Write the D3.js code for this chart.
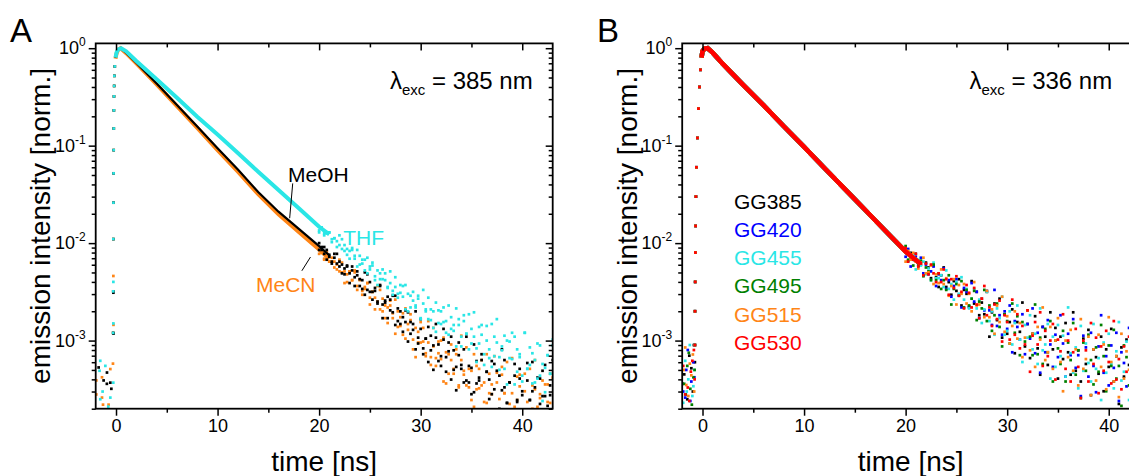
<!DOCTYPE html>
<html>
<head>
<meta charset="utf-8">
<script src="https://cdn.jsdelivr.net/npm/d3@7"></script>
<style>
  body { margin: 0; background: #fff; }
  text { font-family: "Liberation Sans", Arial, sans-serif; }
</style>
</head>
<body>
<div id="chart"></div>
<script>
// ---- data (time in ns, intensity normalised) ----
var xTicks = [0, 10, 20, 30, 40];
var xMinor = [5, 15, 25, 35];
var yTicks = [1, 0.1, 0.01, 0.001];

// time bins of the noisy tail (20 ... 43 ns, every 0.25 ns)
var tailT = [20,20.25,20.5,20.75,21,21.25,21.5,21.75,22,22.25,22.5,22.75,23,23.25,23.5,23.75,24,24.25,24.5,24.75,
  25,25.25,25.5,25.75,26,26.25,26.5,26.75,27,27.25,27.5,27.75,28,28.25,28.5,28.75,29,29.25,29.5,29.75,
  30,30.25,30.5,30.75,31,31.25,31.5,31.75,32,32.25,32.5,32.75,33,33.25,33.5,33.75,34,34.25,34.5,34.75,
  35,35.25,35.5,35.75,36,36.25,36.5,36.75,37,37.25,37.5,37.75,38,38.25,38.5,38.75,39,39.25,39.5,39.75,
  40,40.25,40.5,40.75,41,41.25,41.5,41.75,42,42.25,42.5,42.75,43];

// panel A : smooth part of the decays [t, intensity]
var meohCurve = [[-0.05,0.8],[0.05,0.9],[0.2,0.97],[0.45,1.0],[1,0.9],[2,0.71],[4,0.435],[6,0.262],[8,0.157],[10,0.094],[12,0.057],[14,0.0335],[16,0.021],[18,0.014],[20,0.0093],[21,0.0075]];
var mecnCurve = [[-0.05,0.78],[0.05,0.88],[0.2,0.96],[0.45,1.0],[1,0.89],[2,0.7],[4,0.425],[6,0.255],[8,0.152],[10,0.09],[12,0.054],[14,0.0318],[16,0.0198],[18,0.013],[20,0.0086],[21,0.0069]];
var thfCurve = [[-0.05,0.8],[0.05,0.9],[0.2,0.97],[0.5,1.0],[1,0.93],[2,0.74],[4,0.48],[6,0.31],[8,0.198],[10,0.13],[12,0.084],[14,0.054],[16,0.035],[18,0.0228],[20,0.0147],[21,0.0123]];

// rising edge, same time bins for all three
var riseA = [[-0.28,0.0012],[-0.27,0.0032],[-0.26,0.011],[-0.25,0.026],[-0.24,0.052],[-0.23,0.09],[-0.22,0.15],[-0.21,0.23],[-0.2,0.32],[-0.18,0.41],[-0.16,0.52],[-0.12,0.65]];

// background before the pulse [t, intensity x 1e-3]
var meohPre = [[-1.71,0.53],[-0.89,0.47],[-1.22,0.39],[-0.9,0.36],[-0.56,0.37],[-0.46,0.32],[-0.25,1.18],[-0.26,3.1]];
var mecnPre = [[-0.3,0.58],[-1.38,0.42],[-1.94,0.39],[-0.56,0.51],[-1.94,0.28],[-1.28,0.22],[-0.73,0.22],[-1.38,0.26],[-0.25,1.45],[-0.26,4.6]];
var thfPre = [[-1.55,0.62],[-1.05,0.55],[-1.62,0.49],[-1.32,0.3],[-0.27,0.37],[-0.56,0.26],[-1.55,0.25],[-0.76,0.21],[-0.26,1.5],[-0.26,4.0]];

// tails, log10(intensity) at tailT (two reads per bin)
var meohLog1 = [-2.00,-2.04,-2.11,-2.07,-2.14,-2.21,-2.15,-2.11,-2.24,-2.22,-2.32,-2.24,-2.31,-2.24,-2.44,-2.33,-2.37,-2.47,-2.30,-2.48,-2.40,-2.58,-2.49,-2.60,-2.44,-2.77,-2.61,-2.55,-2.69,-2.54,-2.84,-2.67,-2.83,-2.76,-2.69,-3.01,-2.81,-2.89,-2.70,-3.03,-2.88,-3.14,-2.98,-2.86,-3.10,-3.30,-2.97,-3.04,-3.26,-2.88,-3.17,-3.02,-3.40,-3.10,-3.27,-3.02,-3.25,-3.43,-2.96,-3.43,-3.28,-3.53,-3.21,-3.41,-3.14,-3.71,-3.32,-3.40,-3.55,-3.24,-3.71,-3.36,-3.51,-3.20,-3.64,-3.43,-3.84,-3.36,-3.61,-3.29,-3.52,-3.72,-3.41,-3.61,-3.22,-3.48,-3.78,-3.39,-3.57,-3.25,-3.67,-3.56,-3.90];
var meohLog2 = [-2.07,-2.07,-2.04,-2.17,-2.12,-2.19,-2.11,-2.21,-2.19,-2.31,-2.26,-2.23,-2.41,-2.28,-2.35,-2.29,-2.44,-2.38,-2.53,-2.32,-2.50,-2.50,-2.46,-2.62,-2.43,-2.63,-2.59,-2.77,-2.58,-2.71,-2.54,-2.80,-2.70,-2.91,-2.81,-2.71,-2.93,-2.83,-3.09,-2.97,-2.78,-3.08,-2.98,-3.22,-2.95,-3.05,-2.83,-3.21,-3.16,-2.99,-3.32,-3.11,-2.96,-3.30,-3.51,-3.15,-3.29,-3.09,-3.41,-3.26,-3.55,-3.04,-3.44,-3.38,-3.20,-3.71,-3.32,-3.60,-3.21,-3.50,-3.31,-3.70,-3.09,-3.48,-3.64,-3.43,-3.78,-3.24,-3.63,-3.39,-3.56,-3.72,-3.23,-3.61,-3.52,-3.88,-3.38,-3.65,-3.31,-3.57,-3.77,-3.46,-3.20];
var mecnLog1 = [-2.06,-2.10,-2.16,-2.09,-2.19,-2.15,-2.25,-2.22,-2.29,-2.20,-2.41,-2.32,-2.29,-2.38,-2.30,-2.48,-2.37,-2.49,-2.45,-2.41,-2.63,-2.50,-2.56,-2.44,-2.68,-2.57,-2.77,-2.66,-2.59,-2.77,-2.93,-2.70,-2.76,-2.94,-2.67,-2.89,-2.79,-3.09,-2.87,-3.02,-2.81,-3.01,-3.16,-2.80,-3.17,-3.06,-3.26,-3.01,-3.19,-2.97,-3.44,-3.14,-3.20,-3.34,-3.09,-3.48,-3.20,-3.35,-3.07,-3.48,-3.31,-3.68,-3.26,-3.49,-3.20,-3.43,-3.64,-3.34,-3.55,-3.16,-3.43,-3.74,-3.35,-3.54,-3.22,-3.65,-3.54,-3.88,-3.37,-3.47,-3.72,-3.34,-3.63,-3.85,-3.46,-3.20,-3.68,-3.55,-3.79,-3.45,-3.63,-3.34,-3.92];
var mecnLog2 = [-2.11,-2.09,-2.17,-2.09,-2.19,-2.19,-2.19,-2.27,-2.17,-2.30,-2.29,-2.40,-2.29,-2.38,-2.28,-2.44,-2.38,-2.53,-2.47,-2.41,-2.56,-2.50,-2.68,-2.60,-2.48,-2.70,-2.64,-2.82,-2.64,-2.72,-2.58,-2.86,-2.85,-2.72,-2.98,-2.83,-2.73,-2.99,-3.17,-2.91,-3.02,-2.87,-3.13,-3.02,-3.25,-2.87,-3.18,-3.13,-3.00,-3.42,-3.12,-3.34,-3.04,-3.29,-3.14,-3.46,-2.95,-3.31,-3.46,-3.29,-3.61,-3.14,-3.50,-3.29,-3.46,-3.63,-3.14,-3.54,-3.45,-3.82,-3.33,-3.60,-3.27,-3.54,-3.74,-3.43,-3.18,-3.68,-3.61,-3.35,-3.86,-3.52,-3.75,-3.29,-3.70,-3.50,-3.84,-3.59,-3.41,-3.95,-3.45,-3.64,-3.38];
var thfLog1 = [-1.89,-1.84,-1.90,-1.89,-1.89,-1.99,-1.95,-1.98,-1.92,-2.06,-2.02,-2.12,-2.08,-2.05,-2.16,-2.24,-2.13,-2.17,-2.28,-2.15,-2.27,-2.23,-2.38,-2.28,-2.37,-2.27,-2.38,-2.46,-2.29,-2.49,-2.45,-2.56,-2.43,-2.55,-2.43,-2.70,-2.54,-2.59,-2.66,-2.54,-2.78,-2.62,-2.70,-2.56,-2.79,-2.70,-2.91,-2.69,-2.83,-2.66,-2.80,-2.94,-2.76,-2.90,-2.67,-2.84,-3.06,-2.80,-2.93,-2.73,-3.03,-2.96,-3.22,-2.86,-2.94,-3.14,-2.85,-3.09,-3.27,-2.96,-2.78,-3.17,-3.06,-3.29,-3.00,-3.18,-2.92,-3.45,-3.09,-3.17,-3.36,-2.92,-3.29,-3.07,-3.44,-3.20,-3.39,-3.05,-3.62,-3.28,-3.15,-3.34,-3.05];
var thfLog2 = [-1.87,-1.84,-1.92,-1.90,-1.89,-1.96,-1.95,-2.04,-2.02,-1.96,-2.08,-2.06,-2.16,-2.07,-2.13,-2.07,-2.22,-2.21,-2.17,-2.31,-2.24,-2.20,-2.34,-2.43,-2.31,-2.37,-2.31,-2.45,-2.41,-2.53,-2.35,-2.52,-2.51,-2.44,-2.68,-2.52,-2.66,-2.50,-2.64,-2.57,-2.77,-2.48,-2.68,-2.78,-2.68,-2.87,-2.61,-2.82,-2.70,-2.81,-2.92,-2.64,-2.88,-2.84,-3.06,-2.78,-2.96,-2.74,-2.93,-3.09,-2.88,-2.71,-3.08,-3.03,-2.84,-3.25,-3.00,-3.18,-2.83,-3.16,-3.02,-3.30,-3.10,-2.95,-3.45,-3.01,-3.19,-2.96,-3.32,-3.14,-3.42,-2.92,-3.29,-3.25,-3.13,-3.43,-3.03,-3.36,-3.24,-3.53,-3.15,-3.34,-2.99];

// panel B : the six filters give the same decay
var decayB = [[-0.1,0.8],[0,0.93],[0.2,0.99],[0.5,1.0],[1,0.9],[2,0.69],[4,0.42],[6,0.26],[8,0.158],[10,0.097],[12,0.059],[14,0.036],[16,0.022],[18,0.0134],[20,0.0082],[21,0.0067],[21.5,0.0061]];
var riseB = [[-0.75,0.0009],[-0.74,0.002],[-0.72,0.004],[-0.7,0.008],[-0.68,0.015],[-0.65,0.03],[-0.6,0.06],[-0.5,0.12],[-0.4,0.24],[-0.3,0.4],[-0.2,0.6]];

var gg385Pre = [[-1.8,0.45],[-1.3,0.7],[-0.95,0.3],[-1.5,0.25],[-0.85,0.9],[-1.1,0.52],[-1.95,0.36],[-0.75,0.6]];
var gg420Pre = [[-1.6,0.5],[-1.1,0.38],[-0.9,0.6],[-1.9,0.3],[-1.2,0.24],[-1.45,0.8],[-0.8,0.42],[-1.7,0.26]];
var gg455Pre = [[-1.7,0.62],[-1.0,0.27],[-1.4,0.4],[-0.8,0.5],[-1.9,0.23],[-1.25,0.9],[-0.9,0.34],[-1.55,0.3]];
var gg495Pre = [[-1.5,0.55],[-1.2,0.32],[-0.9,0.42],[-1.8,0.36],[-1.05,0.22],[-1.35,0.75],[-0.78,0.5],[-1.65,0.28]];
var gg515Pre = [[-1.6,0.35],[-1.25,0.58],[-0.95,0.72],[-1.85,0.5],[-1.4,0.27],[-1.1,0.44],[-0.82,0.3],[-1.7,0.85]];
var gg530Pre = [[-1.7,0.28],[-1.15,0.48],[-0.85,0.8],[-1.45,0.33],[-1.0,0.62],[-1.3,0.24],[-0.78,0.4],[-1.9,0.55]];

var gg385Log = [-2.09,-2.18,-2.10,-2.17,-2.11,-2.23,-2.22,-2.33,-2.20,-2.25,-2.36,-2.23,-2.35,-2.45,-2.33,-2.25,-2.45,-2.40,-2.53,-2.39,-2.49,-2.37,-2.64,-2.48,-2.52,-2.65,-2.39,-2.62,-2.50,-2.74,-2.61,-2.73,-2.50,-2.96,-2.71,-2.62,-2.79,-2.57,-2.97,-2.73,-2.93,-2.81,-2.68,-3.13,-2.81,-2.91,-2.61,-3.06,-2.83,-3.18,-2.93,-2.75,-3.08,-3.35,-2.86,-2.96,-3.25,-2.71,-3.09,-2.87,-3.39,-2.96,-3.19,-2.82,-3.12,-3.35,-2.71,-3.31,-3.10,-3.42,-2.98,-3.24,-2.89,-3.56,-3.09,-3.17,-3.34,-2.96,-3.52,-3.09,-3.27,-2.88,-3.42,-3.16,-3.65,-3.07,-3.37,-2.99,-3.25,-3.49,-3.12,-3.36,-2.88];
var gg420Log = [-2.14,-2.06,-2.24,-2.16,-2.14,-2.22,-2.15,-2.31,-2.22,-2.32,-2.29,-2.24,-2.44,-2.32,-2.38,-2.26,-2.47,-2.38,-2.55,-2.44,-2.37,-2.53,-2.66,-2.46,-2.50,-2.66,-2.41,-2.60,-2.50,-2.77,-2.57,-2.69,-2.49,-2.69,-2.84,-2.48,-2.85,-2.74,-2.94,-2.70,-2.88,-2.64,-3.12,-2.80,-2.86,-2.99,-2.73,-3.14,-2.83,-2.98,-2.67,-3.13,-2.92,-3.33,-2.86,-3.12,-2.79,-3.04,-3.27,-2.94,-3.17,-2.74,-3.03,-3.37,-2.93,-3.15,-2.78,-3.28,-3.15,-3.57,-2.95,-3.07,-3.37,-2.92,-3.26,-3.53,-3.06,-2.74,-3.33,-3.16,-3.46,-3.05,-3.28,-2.92,-3.62,-3.12,-3.23,-3.47,-2.87,-3.35,-3.04,-3.52,-3.19];
var gg455Log = [-2.08,-2.19,-2.14,-2.12,-2.27,-2.17,-2.23,-2.19,-2.32,-2.26,-2.38,-2.20,-2.36,-2.36,-2.33,-2.45,-2.28,-2.47,-2.42,-2.58,-2.40,-2.52,-2.35,-2.58,-2.47,-2.67,-2.57,-2.47,-2.67,-2.58,-2.82,-2.68,-2.50,-2.80,-2.70,-2.94,-2.67,-2.77,-2.55,-2.94,-2.90,-2.70,-3.04,-2.82,-2.64,-2.99,-3.22,-2.84,-2.97,-2.74,-3.09,-2.93,-3.24,-2.67,-3.10,-3.04,-2.83,-3.39,-2.96,-3.27,-2.84,-3.16,-2.95,-3.37,-2.66,-3.13,-3.33,-3.07,-3.49,-2.85,-3.31,-3.03,-3.23,-3.42,-2.83,-3.29,-3.18,-3.61,-3.02,-3.33,-2.93,-3.24,-3.49,-3.11,-2.81,-3.41,-3.32,-3.01,-3.61,-3.20,-3.48,-2.92,-3.40];
var gg495Log = [-2.03,-2.17,-2.15,-2.23,-2.17,-2.23,-2.18,-2.34,-2.25,-2.29,-2.38,-2.22,-2.38,-2.31,-2.47,-2.38,-2.48,-2.33,-2.63,-2.47,-2.42,-2.54,-2.39,-2.66,-2.48,-2.64,-2.57,-2.49,-2.79,-2.60,-2.67,-2.48,-2.80,-2.64,-2.90,-2.74,-2.62,-2.86,-3.06,-2.73,-2.80,-3.03,-2.62,-2.92,-2.75,-3.15,-2.81,-3.01,-2.69,-2.96,-3.15,-2.63,-3.14,-2.97,-3.24,-2.88,-3.12,-2.80,-3.42,-3.00,-3.08,-3.24,-2.90,-3.42,-3.02,-3.20,-2.82,-3.35,-3.10,-3.59,-3.02,-3.31,-2.94,-3.20,-3.45,-3.07,-3.32,-2.84,-3.16,-3.52,-3.05,-3.26,-2.89,-3.39,-3.26,-3.67,-3.05,-3.17,-3.46,-3.01,-3.35,-3.62,-3.14];
var gg515Log = [-2.19,-2.08,-2.17,-2.10,-2.19,-2.26,-2.20,-2.15,-2.31,-2.30,-2.23,-2.42,-2.32,-2.41,-2.27,-2.42,-2.36,-2.54,-2.44,-2.37,-2.63,-2.43,-2.52,-2.42,-2.62,-2.52,-2.70,-2.40,-2.64,-2.63,-2.57,-2.76,-2.49,-2.76,-2.68,-2.93,-2.64,-2.81,-2.55,-2.91,-2.75,-3.03,-2.85,-2.70,-2.98,-2.82,-3.17,-2.97,-2.69,-3.10,-2.93,-3.27,-2.86,-2.99,-2.66,-3.20,-3.12,-2.86,-3.29,-3.00,-2.77,-3.22,-3.52,-3.00,-3.17,-2.89,-3.31,-3.09,-3.46,-2.78,-3.29,-3.19,-2.96,-3.56,-3.09,-3.41,-2.94,-3.27,-3.04,-3.50,-2.76,-3.22,-3.42,-3.16,-3.58,-2.93,-3.39,-3.11,-3.30,-3.49,-2.90,-3.36,-3.24];
var gg530Log = [-2.05,-2.19,-2.12,-2.17,-2.11,-2.24,-2.21,-2.33,-2.21,-2.32,-2.22,-2.31,-2.40,-2.31,-2.40,-2.27,-2.37,-2.53,-2.37,-2.46,-2.34,-2.54,-2.50,-2.67,-2.43,-2.51,-2.66,-2.46,-2.63,-2.77,-2.57,-2.44,-2.74,-2.66,-2.85,-2.63,-2.78,-2.59,-3.01,-2.74,-2.81,-2.99,-2.58,-2.94,-2.73,-3.08,-2.85,-3.04,-2.69,-3.32,-2.95,-2.81,-3.04,-2.71,-3.26,-2.90,-3.16,-3.00,-2.83,-3.40,-2.99,-3.11,-2.73,-3.29,-3.00,-3.42,-3.12,-2.88,-3.27,-3.59,-3.00,-3.10,-3.42,-2.82,-3.24,-2.97,-3.54,-3.06,-3.31,-2.90,-3.22,-3.44,-2.80,-3.40,-3.19,-3.50,-3.06,-3.32,-2.96,-3.63,-3.16,-3.24,-3.40];

var cCyan = "#2ae6e6", cOrange = "#ff8516";

var seriesA = [
  { name: "MeCN", color: cOrange, curve: mecnCurve, pre: mecnPre, tails: [mecnLog1, mecnLog2], lw: 4 },
  { name: "MeOH", color: "#000000", curve: meohCurve, pre: meohPre, tails: [meohLog1, meohLog2], lw: 2.2 },
  { name: "THF", color: cCyan, curve: thfCurve, pre: thfPre, tails: [thfLog1, thfLog2], lw: 4 }
];
var seriesB = [
  { name: "GG385", color: "#000000", pre: gg385Pre, tails: [gg385Log] },
  { name: "GG420", color: "#0000ff", pre: gg420Pre, tails: [gg420Log] },
  { name: "GG455", color: cCyan, pre: gg455Pre, tails: [gg455Log] },
  { name: "GG495", color: "#008000", pre: gg495Pre, tails: [gg495Log] },
  { name: "GG515", color: cOrange, pre: gg515Pre, tails: [gg515Log] },
  { name: "GG530", color: "#ff0000", pre: gg530Pre, tails: [gg530Log] }
];

var width = 457, height = 365.3;

var svg = d3.select("#chart").append("svg")
  .attr("width", 1129).attr("height", 476);

var x = d3.scaleLinear().domain([-2, 43]).range([0, width]);
var y = d3.scaleLog().domain([2e-4, 1.12]).range([height, 0]);

var line = d3.line()
  .x(function(d) { return x(d[0]) })
  .y(function(d) { return y(d[1]) });

// minor log ticks 2..9 per decade
var yMinor = [];
[1e-4, 1e-3, 1e-2, 1e-1].forEach(function(dec) {
  for (var k = 2; k <= 9; k++) yMinor.push(dec * k);
});
yMinor = yMinor.filter(function(v) { return v >= 2e-4 && v <= 1.12 });

function panel(left, id) {
  var g = svg.append("g").attr("transform", "translate(" + left + ",43.4)");

  g.append("clipPath").attr("id", "clip" + id)
    .append("rect").attr("width", width).attr("height", height);

  var plot = g.append("g").attr("clip-path", "url(#clip" + id + ")");

  // axes : left / bottom ticks out, top / right ticks in
  var ax = [
    g.append("g").attr("transform", "translate(0," + height + ")")
      .call(d3.axisBottom(x).tickValues(xTicks).tickSize(7).tickSizeOuter(0).tickPadding(4)),
    g.append("g").attr("transform", "translate(0," + height + ")")
      .call(d3.axisBottom(x).tickValues(xMinor).tickSize(4).tickSizeOuter(0).tickFormat("")),
    g.append("g").call(d3.axisTop(x).tickValues(xTicks).tickSize(-7).tickSizeOuter(0).tickFormat("")),
    g.append("g").call(d3.axisTop(x).tickValues(xMinor).tickSize(-4).tickSizeOuter(0).tickFormat("")),
    g.append("g").call(d3.axisLeft(y).tickValues(yTicks).tickSize(7).tickSizeOuter(0).tickFormat("")),
    g.append("g").call(d3.axisLeft(y).tickValues(yMinor).tickSize(4).tickSizeOuter(0).tickFormat("")),
    g.append("g").attr("transform", "translate(" + width + ",0)")
      .call(d3.axisRight(y).tickValues(yTicks).tickSize(-7).tickSizeOuter(0).tickFormat("")),
    g.append("g").attr("transform", "translate(" + width + ",0)")
      .call(d3.axisRight(y).tickValues(yMinor).tickSize(-4).tickSizeOuter(0).tickFormat(""))
  ];
  ax.forEach(function(a) {
    a.select(".domain").remove();
    a.selectAll("line").attr("stroke", "#000").attr("stroke-width", 1.5);
    a.selectAll("text").attr("font-size", 18).attr("fill", "#000")
      .style("font-family", "'Liberation Sans', Arial, sans-serif");
  });

  // y labels 10^n
  yTicks.forEach(function(v) {
    var e = Math.round(Math.log10(v));
    var t = g.append("text")
      .attr("x", -10).attr("y", y(v) + 6)
      .attr("text-anchor", "end").attr("font-size", 18);
    t.append("tspan").text("10");
    t.append("tspan").attr("font-size", 12).attr("dy", -8).text(e === 0 ? "0" : "-" + Math.abs(e));
  });

  g.append("rect")
    .attr("width", width).attr("height", height)
    .attr("fill", "none").attr("stroke", "#000").attr("stroke-width", 1.8);

  return { g: g, plot: plot };
}

var dot = 2.7;

function dots(plot, data, color, scale) {
  plot.append("g").selectAll("rect")
    .data(data)
    .enter()
    .append("rect")
      .attr("x", function(d) { return x(d[0]) - dot / 2 })
      .attr("y", function(d) { return y(d[1] * scale) - dot / 2 })
      .attr("width", dot).attr("height", dot)
      .attr("fill", color);
}

function tail(plot, logs, color) {
  plot.append("g").selectAll("rect")
    .data(logs)
    .enter()
    .append("rect")
      .attr("x", function(d, i) { return x(tailT[i]) - dot / 2 })
      .attr("y", function(d) { return y(Math.pow(10, d)) - dot / 2 })
      .attr("width", dot).attr("height", dot)
      .attr("fill", color);
}

// ---------- panel A ----------
var A = panel(95.7, "A");
seriesA.forEach(function(s) {
  dots(A.plot, riseA, s.color, 1);
  dots(A.plot, s.pre, s.color, 1e-3);
  s.tails.forEach(function(t) { tail(A.plot, t, s.color) });
  A.plot.append("path")
    .datum(s.curve)
    .attr("d", line)
    .attr("fill", "none")
    .attr("stroke", s.color)
    .attr("stroke-width", s.lw);
});

// ---------- panel B ----------
var B = panel(682.2, "B");
seriesB.forEach(function(s) {
  dots(B.plot, riseB, s.color, 1);
  dots(B.plot, s.pre, s.color, 1e-3);
  s.tails.forEach(function(t) { tail(B.plot, t, s.color) });
  B.plot.append("path")
    .datum(decayB)
    .attr("d", line)
    .attr("fill", "none")
    .attr("stroke", s.color)
    .attr("stroke-width", 4.5);
});

// ---------- labels ----------
function lambda(g, xr, nm) {
  var t = g.append("text").attr("x", xr).attr("y", 46)
    .attr("text-anchor", "end").attr("font-size", 24);
  t.append("tspan").text("\u03bb");
  t.append("tspan").attr("font-size", 15).attr("dy", 6).text("exc");
  t.append("tspan").attr("dy", -6).text(" = " + nm + " nm");
}
lambda(A.g, 437, 385);
lambda(B.g, 430, 336);

A.g.append("text").attr("x", 192.3).attr("y", 138.3).attr("font-size", 21).text("MeOH");
A.g.append("text").attr("x", 247.6).attr("y", 201.6).attr("font-size", 21).attr("fill", cCyan).text("THF");
A.g.append("text").attr("x", 160.3).attr("y", 248.3).attr("font-size", 21).attr("fill", cOrange).text("MeCN");

// leader lines
A.g.append("line")
  .attr("x1", x(17.4)).attr("y1", y(0.041)).attr("x2", x(17.1)).attr("y2", y(0.018))
  .attr("stroke", "#000").attr("stroke-width", 1);
A.g.append("line")
  .attr("x1", x(18.3)).attr("y1", y(0.0052)).attr("x2", x(19.15)).attr("y2", y(0.0072))
  .attr("stroke", "#000").attr("stroke-width", 1);

seriesB.forEach(function(s, i) {
  B.g.append("text")
    .attr("x", 51.8).attr("y", 165.3 + i * 28.25)
    .attr("font-size", 21).attr("fill", s.color)
    .text(s.name);
});

[[95.7, "A"], [682.2, "B"]].forEach(function(p, i) {
  svg.append("text")
    .attr("x", p[0] + width / 2).attr("y", 471)
    .attr("text-anchor", "middle").attr("font-size", 28)
    .text("time [ns]");
  svg.append("text")
    .attr("transform", "translate(" + (p[0] - 45.7) + ",226) rotate(-90)")
    .attr("text-anchor", "middle").attr("font-size", 28)
    .text("emission intensity [norm.]");
  svg.append("text")
    .attr("x", i === 0 ? 10 : 597).attr("y", 42)
    .attr("font-size", 33)
    .text(p[1]);
});
</script>
</body>
</html>
